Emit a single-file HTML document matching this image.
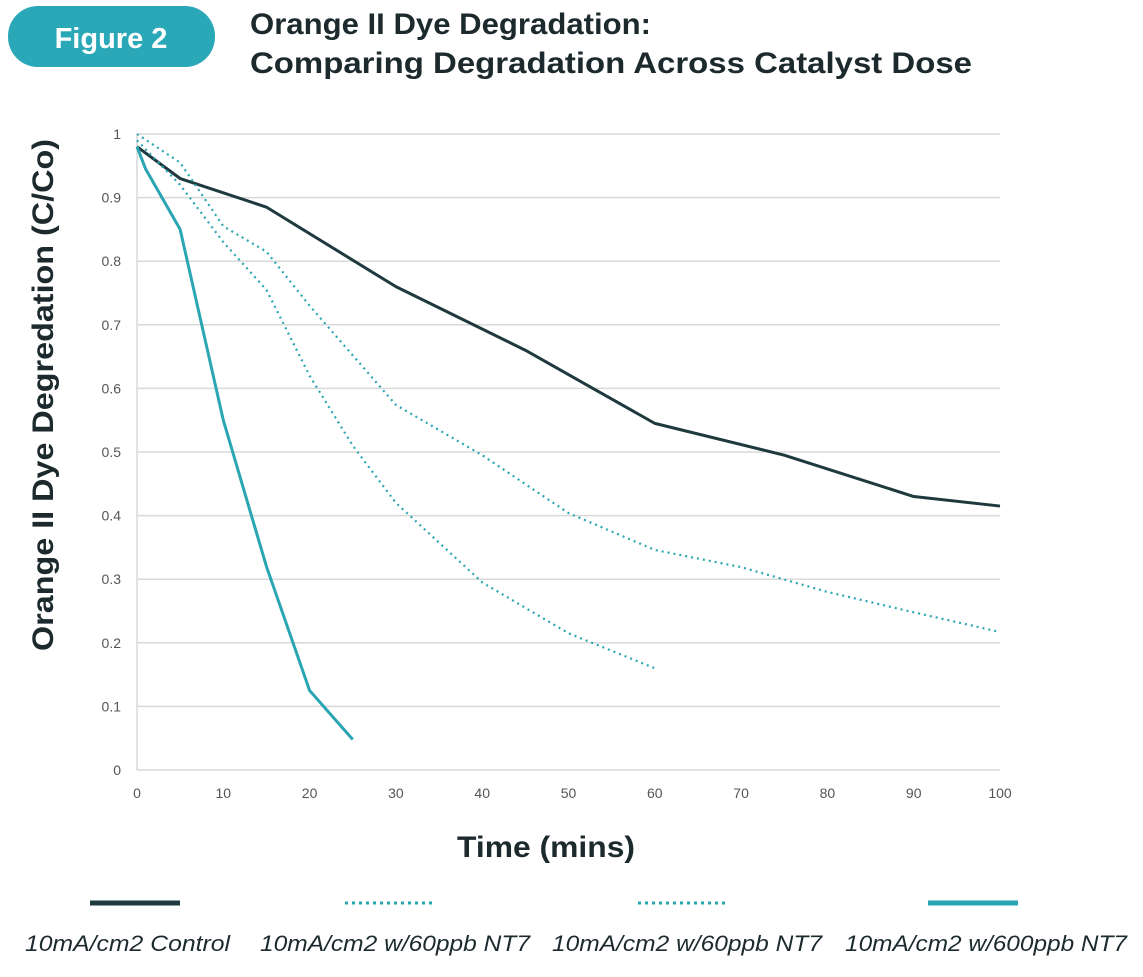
<!DOCTYPE html>
<html><head><meta charset="utf-8"><style>
body{margin:0;background:#fff;width:1143px;height:977px;overflow:hidden;font-family:"Liberation Sans",sans-serif}
svg{position:absolute;left:0;top:0}
</style></head><body>
<svg width="1143" height="977" id="chart">
<rect x="8" y="6" width="207" height="61" rx="30" fill="#2aa8b8"/>
<text x="111" y="48" text-anchor="middle" font-size="29" font-weight="bold" fill="#fff">Figure 2</text>
<text x="250" y="34" font-size="30" font-weight="bold" fill="#1c2a2e" textLength="401" lengthAdjust="spacingAndGlyphs">Orange II Dye Degradation:</text>
<text x="250" y="73" font-size="30" font-weight="bold" fill="#1c2a2e" textLength="722" lengthAdjust="spacingAndGlyphs">Comparing Degradation Across Catalyst Dose</text>
<g id="grid"></g><g id="series"></g>
<text transform="translate(53,395) rotate(-90)" text-anchor="middle" font-size="30" font-weight="bold" fill="#1c2a2e" textLength="512" lengthAdjust="spacingAndGlyphs">Orange II Dye Degredation (C/Co)</text>
<text x="546" y="857" text-anchor="middle" font-size="30" font-weight="bold" fill="#1c2a2e" textLength="178" lengthAdjust="spacingAndGlyphs">Time (mins)</text>
<g id="legend"></g>
</svg>
<script>
const xTicks=[0,10,20,30,40,50,60,70,80,90,100];
const yTicks=[0,0.1,0.2,0.3,0.4,0.5,0.6,0.7,0.8,0.9,1];
const controlX=[0,5,15,30,45,60,75,90,100];
const controlY=[0.98,0.93,0.885,0.76,0.66,0.545,0.495,0.43,0.415];
const dot1X=[0,5,10,15,20,30,40,50,60,70,80,90,100];
const dot1Y=[1.0,0.955,0.855,0.815,0.73,0.574,0.495,0.404,0.346,0.319,0.28,0.248,0.217];
const dot2X=[0,5,10,15,20,25,30,40,50,60];
const dot2Y=[0.99,0.92,0.83,0.755,0.62,0.51,0.42,0.295,0.215,0.16];
const highX=[0,1,5,10,15,20,25];
const highY=[0.98,0.945,0.85,0.55,0.32,0.125,0.048];
const legendLabels=["10mA/cm2 Control","10mA/cm2 w/60ppb NT7","10mA/cm2 w/60ppb NT7","10mA/cm2 w/600ppb NT7"];
const NS="http://www.w3.org/2000/svg";
const X=v=>137+v*8.63, Y=v=>770-v*636;
function mk(t,a,p){const e=document.createElementNS(NS,t);for(const k in a)e.setAttribute(k,a[k]);p.appendChild(e);return e;}
const grid=document.getElementById('grid');
yTicks.forEach(v=>{
 const l=mk('line',{x1:137,x2:1000,y1:Y(v),y2:Y(v),stroke:'#d9d9d9','stroke-width':1.5},grid);
 
 
 const t=mk('text',{x:121,y:Y(v)+5,'text-anchor':'end','font-size':14,fill:'#555'},grid);t.textContent=String(v);
 
 
});
const ax=mk('line',{x1:137,x2:137,y1:Y(1),y2:Y(0),stroke:'#d9d9d9','stroke-width':1.5},grid);


xTicks.forEach(v=>{
 const t=mk('text',{x:X(v),y:798,'text-anchor':'middle','font-size':14,fill:'#555'},grid);t.textContent=String(v);
 
 
});
const S=document.getElementById('series');
function line(xs,ys,col,dash,w,name){
 const p=mk('polyline',{points:xs.map((x,i)=>X(x)+','+Y(ys[i])).join(' '),fill:'none',stroke:col,'stroke-width':w,'stroke-dasharray':dash,'stroke-linejoin':'round'},S);
 
 
}
line(controlX,controlY,'#1e3a3e','none',3,'series-control');
line(dot1X,dot1Y,'#2aa6b2','2 4',2.2,'series-60ppb-a');
line(dot2X,dot2Y,'#2aa6b2','2 4',2.2,'series-60ppb-b');
line(highX,highY,'#2aa6b2','none',3,'series-600ppb');
const L=document.getElementById('legend');
const lx=[135,390,683,973],lc=['#1e3a3e','#2aa6b2','#2aa6b2','#2aa6b2'],ld=['none','3 4','3 4','none'],lw=[5,3,3,5];
const tx=[25,260,552,845],tl=[205,270,270,282];
legendLabels.forEach((s,i)=>{
 const l=mk('line',{x1:lx[i]-45,x2:lx[i]+45,y1:903,y2:903,stroke:lc[i],'stroke-width':lw[i],'stroke-dasharray':ld[i]},L);
 
 
 const t=mk('text',{x:tx[i],y:951,'font-size':22,'font-style':'italic',fill:'#1c2a2e',textLength:tl[i],lengthAdjust:'spacingAndGlyphs'},L);t.textContent=s;
 
 
});
</script>
</body></html>
